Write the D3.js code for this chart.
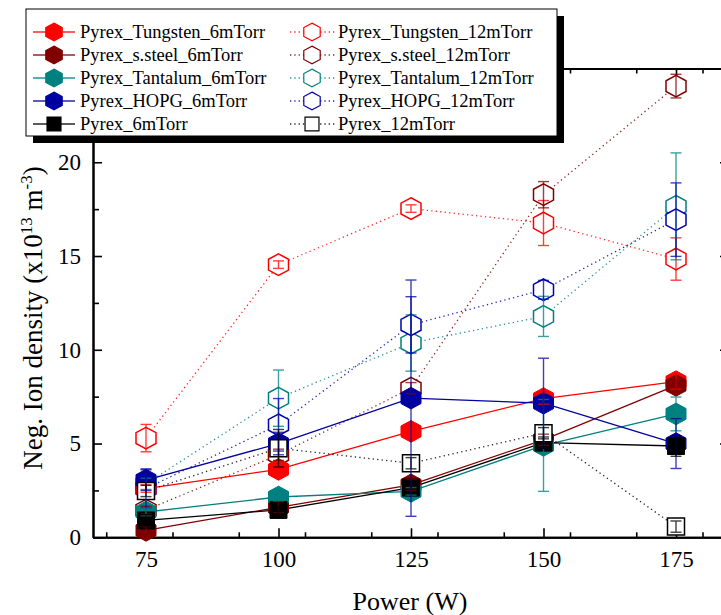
<!DOCTYPE html>
<html><head><meta charset="utf-8">
<script src="https://cdn.jsdelivr.net/npm/d3@7"></script>
<style>body{margin:0;background:#fff;}svg{display:block;}svg text{font-family:"Liberation Serif","Times New Roman",serif !important;}</style>
</head><body><svg id="c" width="721" height="615"></svg>
<script>
const powers = [75, 100, 125, 150, 175];
const xTicks = [75, 100, 125, 150, 175];
const yTicks = [0, 5, 10, 15, 20];

const seriesNames = [
  "Pyrex_Tungsten_12mTorr","Pyrex_s.steel_12mTorr","Pyrex_Tantalum_12mTorr","Pyrex_HOPG_12mTorr",
  "Pyrex_Tungsten_6mTorr","Pyrex_s.steel_6mTorr","Pyrex_Tantalum_6mTorr","Pyrex_HOPG_6mTorr",
  "Pyrex_6mTorr","Pyrex_12mTorr"];

const tungsten12 = [5.29, 14.54, 17.53, 16.76, 14.84];
const tungsten12Err = [0.73, 0.2, 0.2, 1.2, 1.13];
const steel12 = [1.45, 4.4, 7.95, 18.27, 24.06];
const steel12Err = [0.2, 0.3, 0.3, 0.7, 0.63];
const tantalum12 = [2.85, 7.42, 10.36, 11.78, 17.65];
const tantalum12Err = [0.3, 1.5, 1.5, 1.07, 2.85];
const hopg12 = [2.6, 6.0, 11.33, 13.2, 16.94];
const hopg12Err = [1.05, 1.4, 1.5, 0.5, 1.96];
const tungsten6 = [2.6, 3.62, 5.65, 7.4, 8.3];
const tungsten6Err = [0.2, 0.3, 0.3, 0.3, 0.4];
const steel6 = [0.37, 1.6, 2.8, 5.2, 8.1];
const steel6Err = [0.2, 0.3, 0.3, 0.3, 0.3];
const tantalum6 = [1.35, 2.15, 2.45, 4.9, 6.58];
const tantalum6Err = [0.2, 0.2, 0.2, 2.45, 0.9];
const hopg6 = [3.05, 5.0, 7.42, 7.15, 5.0];
const hopg6Err = [0.55, 0.6, 6.3, 2.4, 1.33];
const pyrex6 = [0.9, 1.46, 2.65, 5.05, 4.87];
const pyrex6Err = [0.3, 0.2, 0.3, 0.3, 0.55];
const pyrex12 = [2.47, 4.75, 3.95, 5.55, 0.57];
const pyrex12Err = [0.3, 1.0, 0.3, 0.3, 0.3];

const seriesValues = [tungsten12, steel12, tantalum12, hopg12, tungsten6, steel6, tantalum6, hopg6, pyrex6, pyrex12];
const seriesErrors = [tungsten12Err, steel12Err, tantalum12Err, hopg12Err, tungsten6Err, steel6Err, tantalum6Err, hopg6Err, pyrex6Err, pyrex12Err];
const seriesColors = ["#ff0000","#800000","#008080","#0000b0","#ff0000","#800000","#008080","#0000a0","#000000","#000000"];
const seriesShape = ["hex","hex","hex","hex","hex","hex","hex","hex","square","square"];
const seriesFilled = [false,false,false,false,true,true,true,true,true,false];
const seriesDotted = [true,true,true,true,false,false,false,false,false,true];

const legendLeft = ["Pyrex_Tungsten_6mTorr","Pyrex_s.steel_6mTorr","Pyrex_Tantalum_6mTorr","Pyrex_HOPG_6mTorr","Pyrex_6mTorr"];
const legendRight = ["Pyrex_Tungsten_12mTorr","Pyrex_s.steel_12mTorr","Pyrex_Tantalum_12mTorr","Pyrex_HOPG_12mTorr","Pyrex_12mTorr"];

const FONT = "Liberation Serif, Times New Roman, serif";
const svg = d3.select("#c");
const x = d3.scaleLinear().domain([65, 185]).range([93, 729]);
const y = d3.scaleLinear().domain([0, 25]).range([537.3, 68.5]);

function hexPath(w, h) {
  return `M0,${-h}L${w},${-h/2}L${w},${h/2}L0,${h}L${-w},${h/2}L${-w},${-h/2}Z`;
}
function markerPath(shape, size) {
  if (shape === "hex") return hexPath(10 * size, 10.8 * size);
  const s = 8.5 * size;
  return `M${-s},${-s}H${s}V${s}H${-s}Z`;
}

// axes frame
const axisG = svg.append("g");
const xMinor = d3.range(67.5, 185, 12.5).filter(v => !xTicks.includes(v) && v > 65 && v < 185);
const yMinor = d3.range(2.5, 25, 5);
axisG.append("g").attr("transform", "translate(0,537.3)")
  .call(d3.axisBottom(x).tickValues(xTicks).tickSize(-9).tickSizeOuter(0).tickPadding(13).tickFormat(d3.format("d")));
axisG.append("g").attr("transform", "translate(0,537.3)")
  .call(d3.axisBottom(x).tickValues(xMinor).tickSize(-5).tickSizeOuter(0).tickFormat(""));
axisG.append("g").attr("transform", "translate(0,68.5)")
  .call(d3.axisTop(x).tickValues(xTicks).tickSize(-9).tickSizeOuter(0).tickFormat(""));
axisG.append("g").attr("transform", "translate(0,68.5)")
  .call(d3.axisTop(x).tickValues(xMinor).tickSize(-5).tickSizeOuter(0).tickFormat(""));
axisG.append("g").attr("transform", "translate(93,0)")
  .call(d3.axisLeft(y).tickValues(yTicks).tickSize(-9).tickSizeOuter(0).tickPadding(12).tickFormat(d3.format("d")));
axisG.append("g").attr("transform", "translate(93,0)")
  .call(d3.axisLeft(y).tickValues(yMinor).tickSize(-6).tickSizeOuter(0).tickFormat(""));
axisG.append("g").attr("transform", "translate(729,0)")
  .call(d3.axisRight(y).tickValues(yTicks).tickSize(-9).tickSizeOuter(0).tickFormat(""));
axisG.append("g").attr("transform", "translate(729,0)")
  .call(d3.axisRight(y).tickValues(yMinor).tickSize(-6).tickSizeOuter(0).tickFormat(""));
axisG.selectAll("g").attr("font-family", FONT);
axisG.selectAll(".domain").attr("stroke", "#000").attr("stroke-width", 2);
axisG.selectAll(".tick line").attr("stroke", "#000").attr("stroke-width", 1.6);
axisG.selectAll(".tick text").attr("font-family", FONT).attr("font-size", 23).attr("fill", "#000");

// lines
const plotG = svg.append("g");
const line = d3.line().x((d, i) => x(powers[i])).y(d => y(d));
seriesValues.forEach((vals, s) => {
  plotG.append("path").attr("d", line(vals)).attr("fill", "none")
    .attr("stroke", seriesColors[s]).attr("stroke-width", 1.3)
    .attr("stroke-dasharray", seriesDotted[s] ? "1.3,3.2" : null)
    .attr("opacity", seriesDotted[s] ? 0.85 : 1);
});
// markers
seriesValues.forEach((vals, s) => {
  plotG.selectAll(null).data(vals).enter().append("path")
    .attr("d", markerPath(seriesShape[s], 1))
    .attr("transform", (d, i) => `translate(${x(powers[i])},${y(d)})`)
    .attr("fill", seriesFilled[s] ? seriesColors[s] : "#fff")
    .attr("stroke", seriesColors[s]).attr("stroke-width", seriesFilled[s] ? 1 : 1.5);
});
// error bars
seriesValues.forEach((vals, s) => {
  const g = plotG.append("g").attr("stroke", seriesColors[s])
    .attr("stroke-width", 1.4).attr("opacity", 0.75);
  vals.forEach((v, i) => {
    const e = seriesErrors[s][i];
    const cx = x(powers[i]);
    g.append("line").attr("x1", cx).attr("x2", cx).attr("y1", y(v - e)).attr("y2", y(v + e));
    g.append("line").attr("x1", cx - 5.5).attr("x2", cx + 5.5).attr("y1", y(v - e)).attr("y2", y(v - e));
    g.append("line").attr("x1", cx - 5.5).attr("x2", cx + 5.5).attr("y1", y(v + e)).attr("y2", y(v + e));
  });
});

// axis titles
svg.append("text").attr("x", 410).attr("y", 610).attr("text-anchor", "middle")
  .attr("font-family", FONT).attr("font-size", 26).text("Power (W)");
const yl = svg.append("text").attr("transform", "translate(42,318) rotate(-90)")
  .attr("text-anchor", "middle").attr("font-family", FONT).attr("font-size", 27);
yl.append("tspan").text("Neg. Ion density (x10");
yl.append("tspan").attr("font-size", 17).attr("dy", -10).text("13");
yl.append("tspan").attr("dy", 10).text(" m");
yl.append("tspan").attr("font-size", 17).attr("dy", -10).text("-3");
yl.append("tspan").attr("dy", 10).text(")");

// legend
const lg = svg.append("g");
lg.append("rect").attr("x", 33).attr("y", 16).attr("width", 531).attr("height", 127).attr("fill", "#000");
lg.append("rect").attr("x", 26).attr("y", 9).attr("width", 531).attr("height", 127).attr("fill", "#fff").attr("stroke", "#000").attr("stroke-width", 1);
const rowY = [32, 55, 78, 101, 124];
const leftIdx = [4, 5, 6, 7, 8];
const rightIdx = [0, 1, 2, 3, 9];
function legendItem(s, label, ry, x0, x1, mx, tx) {
  lg.append("line").attr("x1", x0).attr("x2", x1).attr("y1", ry).attr("y2", ry)
    .attr("stroke", seriesColors[s]).attr("stroke-width", 1.3)
    .attr("stroke-dasharray", seriesDotted[s] ? "1.3,3" : null).attr("opacity", 0.85);
  lg.append("path").attr("d", markerPath(seriesShape[s], 0.82)).attr("transform", `translate(${mx},${ry})`)
    .attr("fill", seriesFilled[s] ? seriesColors[s] : "#fff").attr("stroke", seriesColors[s]).attr("stroke-width", 1.2);
  lg.append("text").attr("x", tx).attr("y", ry + 6).attr("font-family", FONT).attr("font-size", 18.5).text(label);
}
legendLeft.forEach((l, i) => legendItem(leftIdx[i], l, rowY[i], 33, 75, 54, 80));
legendRight.forEach((l, i) => legendItem(rightIdx[i], l, rowY[i], 290, 335, 312, 338));
</script></body></html>
